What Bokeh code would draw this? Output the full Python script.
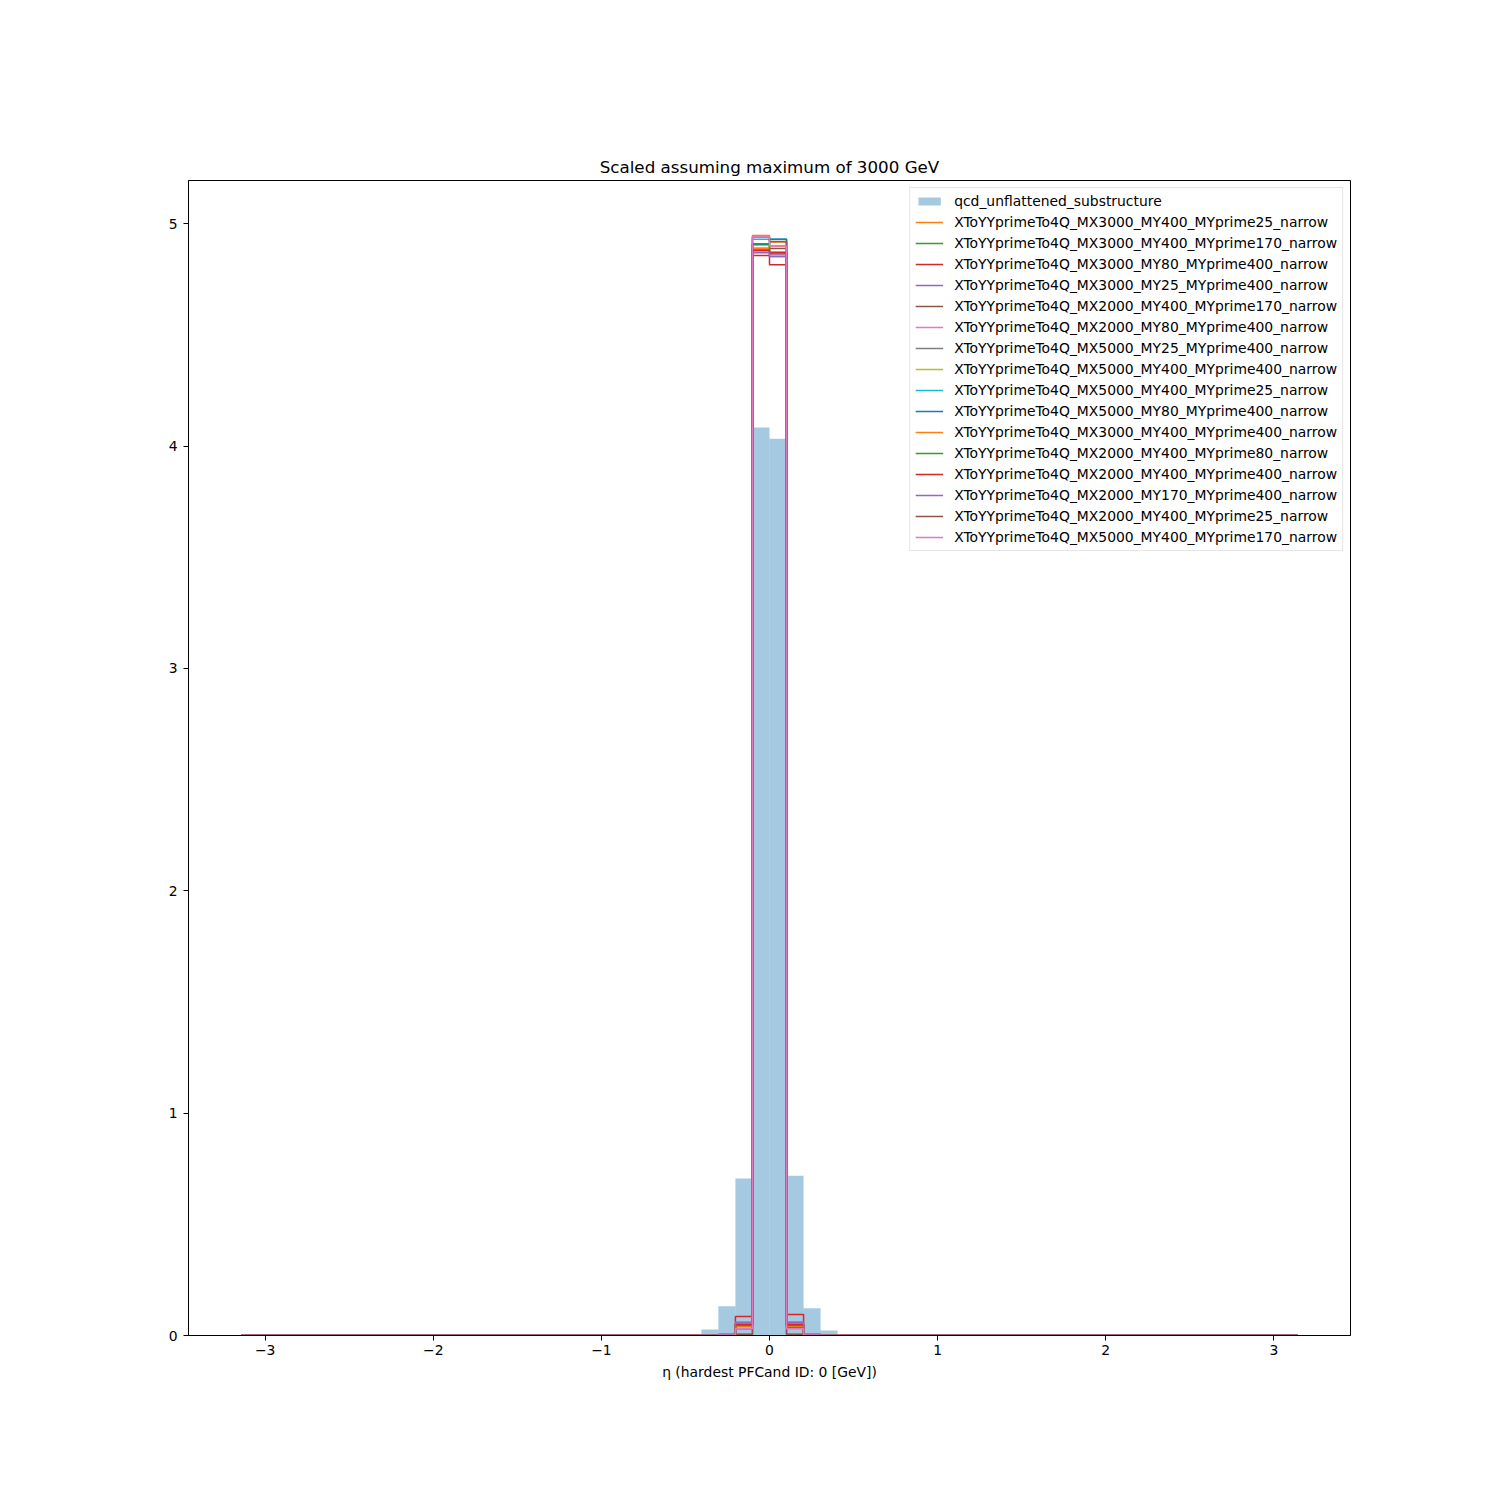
import numpy as np
from bokeh.plotting import figure
from bokeh.models import Range1d, CustomJSTickFormatter, FixedTicker
from bokeh.embed import file_html
from bokeh.resources import INLINE

# ---- data ----
N_BINS = 62
ETA_MIN, ETA_MAX = -np.pi, np.pi
FIRST_BIN = 26  # index of the first bin of the central windows below (bins 26..35); all other bins are 0

qcd_label = "qcd_unflattened_substructure"
qcd_window = [0.0, 0.027, 0.132, 0.706, 4.083, 4.033, 0.719, 0.123, 0.022, 0.0]

signal_labels = [
    "XToYYprimeTo4Q_MX3000_MY400_MYprime25_narrow",
    "XToYYprimeTo4Q_MX3000_MY400_MYprime170_narrow",
    "XToYYprimeTo4Q_MX3000_MY80_MYprime400_narrow",
    "XToYYprimeTo4Q_MX3000_MY25_MYprime400_narrow",
    "XToYYprimeTo4Q_MX2000_MY400_MYprime170_narrow",
    "XToYYprimeTo4Q_MX2000_MY80_MYprime400_narrow",
    "XToYYprimeTo4Q_MX5000_MY25_MYprime400_narrow",
    "XToYYprimeTo4Q_MX5000_MY400_MYprime400_narrow",
    "XToYYprimeTo4Q_MX5000_MY400_MYprime25_narrow",
    "XToYYprimeTo4Q_MX5000_MY80_MYprime400_narrow",
    "XToYYprimeTo4Q_MX3000_MY400_MYprime400_narrow",
    "XToYYprimeTo4Q_MX2000_MY400_MYprime80_narrow",
    "XToYYprimeTo4Q_MX2000_MY400_MYprime400_narrow",
    "XToYYprimeTo4Q_MX2000_MY170_MYprime400_narrow",
    "XToYYprimeTo4Q_MX2000_MY400_MYprime25_narrow",
    "XToYYprimeTo4Q_MX5000_MY400_MYprime170_narrow",
]
signal_windows = [
    [0.0, 0.0, 0.0,   0.005, 4.947, 4.918, 0.005, 0.0,   0.0, 0.0],
    [0.0, 0.0, 0.002, 0.045, 4.910, 4.870, 0.050, 0.002, 0.0, 0.0],
    [0.0, 0.0, 0.006, 0.085, 4.857, 4.816, 0.094, 0.004, 0.0, 0.0],
    [0.0, 0.0, 0.003, 0.058, 4.870, 4.852, 0.058, 0.006, 0.0, 0.0],
    [0.0, 0.0, 0.002, 0.049, 4.885, 4.888, 0.045, 0.002, 0.0, 0.0],
    [0.0, 0.0, 0.004, 0.060, 4.870, 4.860, 0.060, 0.004, 0.0, 0.0],
    [0.0, 0.0, 0.002, 0.050, 4.885, 4.865, 0.050, 0.003, 0.0, 0.0],
    [0.0, 0.0, 0.001, 0.040, 4.890, 4.900, 0.040, 0.001, 0.0, 0.0],
    [0.0, 0.0, 0.0,   0.004, 4.930, 4.930, 0.004, 0.0,   0.0, 0.0],
    [0.0, 0.0, 0.001, 0.030, 4.905, 4.930, 0.035, 0.001, 0.0, 0.0],
    [0.0, 0.0, 0.001, 0.040, 4.890, 4.900, 0.040, 0.001, 0.0, 0.0],
    [0.0, 0.0, 0.002, 0.045, 4.910, 4.870, 0.045, 0.002, 0.0, 0.0],
    [0.0, 0.0, 0.002, 0.050, 4.880, 4.870, 0.050, 0.002, 0.0, 0.0],
    [0.0, 0.0, 0.003, 0.058, 4.870, 4.852, 0.060, 0.005, 0.0, 0.0],
    [0.0, 0.0, 0.0,   0.006, 4.940, 4.920, 0.006, 0.0,   0.0, 0.0],
    [0.0, 0.0, 0.001, 0.030, 4.941, 4.900, 0.030, 0.001, 0.0, 0.0],
]
tab10 = ["#1f77b4", "#ff7f0e", "#2ca02c", "#d62728", "#9467bd",
         "#8c564b", "#e377c2", "#7f7f7f", "#bcbd22", "#17becf"]

x_ticks = [-3, -2, -1, 0, 1, 2, 3]
y_ticks = [0, 1, 2, 3, 4, 5]

title_text = "Scaled assuming maximum of 3000 GeV"
x_label = "\u03b7 (hardest PFCand ID: 0 [GeV])"


def full_hist(window):
    h = np.zeros(N_BINS)
    h[FIRST_BIN:FIRST_BIN + len(window)] = window
    return h


edges = np.linspace(ETA_MIN, ETA_MAX, N_BINS + 1)
qcd = full_hist(qcd_window)
signals = [full_hist(w) for w in signal_windows]

ymax = max(qcd.max(), max(s.max() for s in signals))
span = ETA_MAX - ETA_MIN

W, H = 1484, 1484
FONT = "DejaVu Sans"

p = figure(width=W, height=H, output_backend="svg", toolbar_location=None,
           x_range=Range1d(ETA_MIN - 0.05 * span, ETA_MAX + 0.05 * span),
           y_range=Range1d(0, ymax * 1.05),
           min_border_left=188, min_border_right=W - 1350,
           min_border_top=180, min_border_bottom=H - 1335,
           title=title_text)
p.background_fill_color = "white"
p.border_fill_color = "white"
p.outline_line_color = "black"
p.outline_line_width = 1
p.xgrid.visible = False
p.ygrid.visible = False

p.title.text_font = FONT
p.title.text_font_size = "16.7px"
p.title.text_font_style = "normal"
p.title.text_color = "black"
p.title.align = "center"
p.title.standoff = 8

minus_fmt = CustomJSTickFormatter(code="return tick < 0 ? '\\u2212' + (-tick) : '' + tick;")
for ax, ticks in ((p.xaxis[0], x_ticks), (p.yaxis[0], y_ticks)):
    ax.ticker = FixedTicker(ticks=ticks)
    ax.formatter = minus_fmt
    ax.major_label_text_font = FONT
    ax.major_label_text_font_size = "13.9px"
    ax.major_label_text_color = "black"
    ax.major_tick_in = 0
    ax.major_tick_out = 5
    ax.minor_tick_line_color = None
    ax.axis_line_color = "black"
    ax.major_tick_line_color = "black"
    ax.major_label_standoff = 4
p.yaxis[0].major_label_standoff = 6

p.xaxis.axis_label = x_label
p.xaxis.axis_label_text_font = FONT
p.xaxis.axis_label_text_font_size = "13.9px"
p.xaxis.axis_label_text_font_style = "normal"
p.xaxis.axis_label_text_color = "black"
p.xaxis.axis_label_standoff = 6

# qcd filled histogram
p.quad(left=edges[:-1], right=edges[1:], bottom=0, top=qcd,
       fill_color=tab10[0], fill_alpha=0.4, line_color=None,
       legend_label=qcd_label)

# signal step histograms
for i, (lab, s) in enumerate(zip(signal_labels, signals)):
    xs = np.repeat(edges, 2)
    ys = np.concatenate([[0.0], np.repeat(s, 2), [0.0]])
    p.line(xs, ys, line_color=tab10[(i + 1) % 10], line_width=1.5,
           legend_label=lab)

lg = p.legend[0]
lg.location = "top_right"
lg.margin = 7
lg.padding = 5
lg.spacing = 5
lg.label_height = 14
lg.glyph_height = 10
lg.glyph_width = 28
lg.label_standoff = 11
lg.label_text_font = FONT
lg.label_text_font_size = "13.9px"
lg.label_text_color = "black"
lg.border_line_color = "#cccccc"
lg.background_fill_color = "white"
lg.background_fill_alpha = 0.8

open("out.html", "w").write(file_html(p, INLINE))
